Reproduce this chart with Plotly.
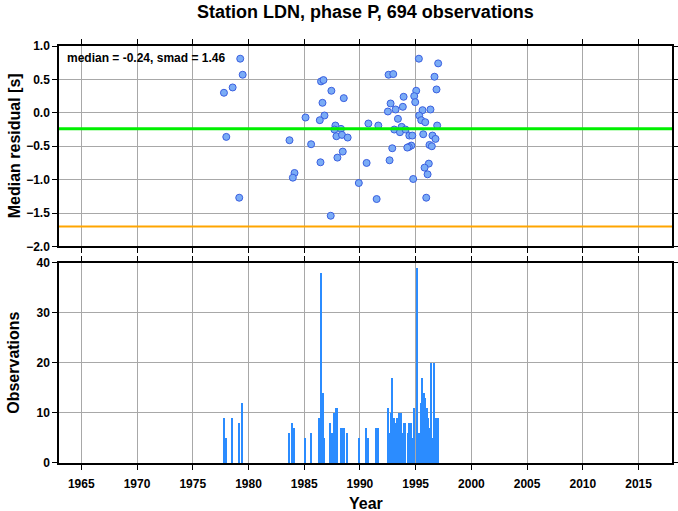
import plotly.graph_objects as go
from plotly.subplots import make_subplots

# Scatter: median residuals
res_years = [1979.26, 1979.48, 1978.58, 1977.80, 1978.01, 1979.17, 1983.68, 1984.13, 1983.98,
             1985.12, 1985.62, 1986.51, 1986.73, 1987.44, 1988.55, 1986.64, 1986.82, 1986.40,
             1987.80, 1987.71, 1988.30, 1987.89, 1988.39, 1988.90, 1988.46, 1987.98, 1986.46,
             1987.38, 1989.90, 1995.29, 1997.02, 1992.57, 1992.99, 1996.69, 1996.87, 1995.05,
             1994.87, 1993.92, 1994.96, 1992.75, 1993.85, 1993.20, 1992.51, 1995.62, 1996.33,
             1995.32, 1993.41, 1995.50, 1995.86, 1990.76, 1991.65, 1996.93, 1993.74, 1993.08,
             1993.59, 1994.09, 1995.68, 1994.43, 1994.70, 1996.51, 1996.78, 1994.61, 1994.39,
             1994.25, 1996.24, 1996.45, 1992.90, 1992.66, 1990.60, 1996.18, 1995.80, 1996.07,
             1994.78, 1991.50, 1995.95]
res_values = [0.81, 0.57, 0.38, 0.30, -0.36, -1.27, -0.41, -0.90, -0.97,
              -0.07, -0.47, 0.47, 0.49, 0.33, 0.22, 0.15, -0.04, -0.11,
              -0.19, -0.25, -0.24, -0.35, -0.33, -0.37, -0.58, -0.67, -0.74,
              -1.54, -1.05, 0.81, 0.74, 0.57, 0.58, 0.54, 0.35, 0.33,
              0.25, 0.24, 0.16, 0.14, 0.09, 0.05, 0.02, 0.04, 0.05,
              -0.04, -0.09, -0.11, -0.14, -0.16, -0.19, -0.19, -0.21, -0.25,
              -0.29, -0.25, -0.32, -0.34, -0.34, -0.34, -0.39, -0.49, -0.51,
              -0.52, -0.48, -0.50, -0.53, -0.71, -0.75, -0.76, -0.82, -0.92,
              -0.99, -1.29, -1.27]

median = -0.24
smad = 1.46

# Bars: observation counts
obs_years = [1977.82, 1978.00, 1978.55, 1979.20, 1979.48, 1983.68, 1983.95, 1984.13, 1985.12,
             1985.62, 1986.37, 1986.46, 1986.55, 1986.62, 1986.73, 1986.82, 1987.35, 1987.47,
             1987.71, 1987.80, 1987.92, 1988.00, 1988.30, 1988.39, 1988.55, 1988.90, 1989.92,
             1990.55, 1990.76, 1991.50, 1991.65, 1992.51, 1992.60, 1992.73, 1992.80, 1992.93,
             1993.05, 1993.17, 1993.35, 1993.56, 1993.70, 1993.85, 1993.97, 1994.09, 1994.30,
             1994.45, 1994.60, 1994.70, 1994.87, 1995.15, 1995.33, 1995.48, 1995.62, 1995.73,
             1995.85, 1996.02, 1996.17, 1996.29, 1996.42, 1996.56, 1996.68, 1996.88, 1997.05]
obs_counts = [9, 5, 9, 8, 12, 6, 8, 7, 5,
              6, 9, 7, 38, 8, 14, 5, 8, 6,
              10, 10, 11, 5, 7, 6, 7, 6, 5,
              7, 5, 7, 7, 11, 6, 6, 10, 17,
              9, 8, 9, 10, 10, 6, 8, 8, 6,
              8, 8, 5, 11, 39, 6, 12, 17, 14,
              13, 11, 9, 7, 20, 5, 20, 9, 9]

year_ticks = [1965, 1970, 1975, 1980, 1985, 1990, 1995, 2000, 2005, 2010, 2015]

FONT = "Liberation Sans, Arial, Helvetica, sans-serif"
AXTITLE_FONT = dict(family=FONT, size=16, color="black", weight="bold")

fig = make_subplots(rows=2, cols=1, shared_xaxes=False, vertical_spacing=0.0384)

fig.add_trace(go.Scatter(
    x=res_years, y=res_values, mode="markers",
    marker=dict(size=7, color="#7aacf6", line=dict(color="#3a5fe0", width=1)),
    showlegend=False, hoverinfo="x+y"), row=1, col=1)

fig.add_trace(go.Bar(
    x=obs_years, y=obs_counts, width=0.14,
    marker=dict(color="#2b8cff", line=dict(width=0)),
    showlegend=False), row=2, col=1)

fig.add_hline(y=median, line=dict(color="#00f000", width=3), row=1, col=1)
fig.add_hline(y=median - smad, line=dict(color="#ffa500", width=2), row=1, col=1)

axis_common = dict(showline=True, linecolor="black", linewidth=1.5, mirror="ticks",
                   ticks="outside", ticklen=5, tickcolor="black", showgrid=True,
                   gridcolor="#a8a8a8", gridwidth=1, zeroline=False, automargin=False,
                   tickfont=dict(family=FONT, size=12, color="black", weight="bold"))

fig.update_xaxes(range=[1963, 2018], tickvals=year_ticks, ticklabelstandoff=4, **axis_common)
fig.update_xaxes(showticklabels=False, row=1, col=1)
fig.update_yaxes(**axis_common)
fig.update_yaxes(range=[-2, 1], dtick=0.5, tickformat=".1f", row=1, col=1)
fig.update_yaxes(range=[0, 40], dtick=10, row=2, col=1)

# Axis titles
fig.add_annotation(text="Median residual [s]", xref="paper", yref="y domain", x=0, y=0.5,
                   xshift=-45, textangle=-90, showarrow=False, font=AXTITLE_FONT,
                   xanchor="center", yanchor="middle")
fig.add_annotation(text="Observations", xref="paper", yref="y2 domain", x=0, y=0.5,
                   xshift=-45, textangle=-90, showarrow=False, font=AXTITLE_FONT,
                   xanchor="center", yanchor="middle")
fig.add_annotation(text="Year", xref="paper", yref="paper", x=0.5, y=0,
                   yshift=-40, showarrow=False, font=AXTITLE_FONT,
                   xanchor="center", yanchor="middle")

fig.add_annotation(text="median = -0.24, smad = 1.46", xref="x domain", yref="y domain",
                   x=0.01, y=0.985, xanchor="left", yanchor="top", showarrow=False,
                   font=dict(family=FONT, size=12, color="black", weight="bold"))

fig.update_layout(
    width=678, height=511,
    margin=dict(l=59, r=6, t=46, b=48, autoexpand=False),
    paper_bgcolor="white", plot_bgcolor="white",
    bargap=0,
    title=dict(text="Station LDN, phase P, 694 observations", x=0.5, xref="paper",
               y=1 - 12 / 511, yanchor="middle",
               font=dict(family=FONT, size=18, color="black", weight="bold")),
)

fig.write_html("out.html", config={"displayModeBar": False},
               post_script="document.body.style.margin='0';document.body.style.overflow='hidden';")
